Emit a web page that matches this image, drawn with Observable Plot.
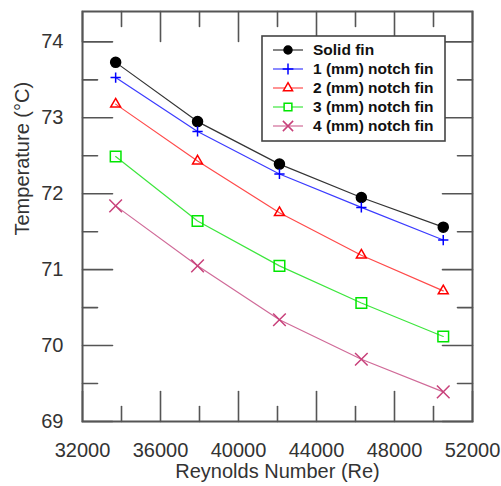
<!DOCTYPE html>
<html>
<head>
<meta charset="utf-8">
<script src="https://cdn.jsdelivr.net/npm/d3@7"></script>
<script src="https://cdn.jsdelivr.net/npm/@observablehq/plot@0.6"></script>
<style>
  html, body { margin: 0; padding: 0; background: #fff; }
  #chart { position: relative; width: 501px; height: 486px; }
  #chart > svg { position: absolute; left: 0; top: 0; }
  #overlay { position: absolute; left: 0; top: 0; pointer-events: none; z-index: 2; }
</style>
</head>
<body>
<div id="chart"></div>
<script>
// ---- data ----
const reynolds = [33700, 37900, 42100, 46300, 50500];
const solidFin = [73.73, 72.95, 72.39, 71.95, 71.56];
const notch1 = [73.53, 72.82, 72.26, 71.82, 71.39];
const notch2 = [73.18, 72.43, 71.75, 71.19, 70.72];
const notch3 = [72.49, 71.64, 71.05, 70.56, 70.12];
const notch4 = [71.84, 71.05, 70.34, 69.82, 69.39];

const seriesNames = ["Solid fin", "1 (mm) notch fin", "2 (mm) notch fin", "3 (mm) notch fin", "4 (mm) notch fin"];
const seriesValues = [solidFin, notch1, notch2, notch3, notch4];
const markerColors = ["#000000", "#0000ff", "#ff0000", "#00e600", "#c8407a"];
const lineColors = ["#333333", "#3b3bff", "#ff4a4a", "#3de63d", "#d06a98"];
const symbols = ["circle", "plus", "triangle", "square", "times"];
const symbolR = [5, 3.4, 3.7, 6.0, 5.8];
const symbolFilled = [true, false, false, false, false];

const xMajor = [32000, 36000, 40000, 44000, 48000, 52000];
const xMinor = [34000, 38000, 42000, 46000, 50000];
const yMajor = [69, 70, 71, 72, 73, 74];
const yMinor = [69.5, 70.5, 71.5, 72.5, 73.5];

const xTitle = "Reynolds Number (Re)";
const yTitle = "Temperature (°C)";

// ---- table ----
const rows = [];
seriesNames.forEach((name, i) => {
  reynolds.forEach((re, j) => rows.push({series: name, idx: i, re, t: seriesValues[i][j]}));
});

const W = 501, H = 486;
const mL = 82, mR = 29, mT = 11, mB = 65;
const majorLen = 30, minorLen = 15;
const axisColor = "#555";
const xDom = [32000, 52000], yDom = [69, 74.4];
const plotW = W - mL - mR, plotH = H - mT - mB;
// pixel tick length expressed in data units of each scale
const perPxX = (xDom[1] - xDom[0]) / plotW;
const perPxY = (yDom[1] - yDom[0]) / plotH;

// tick segments (inward, mirrored on all four sides)
const tickRows = [];
let tid = 0;
[[xMajor, majorLen], [xMinor, minorLen]].forEach(([ticks, len]) => {
  ticks.forEach(v => {
    tid++; tickRows.push({id: tid, x: v, y: yDom[0]}, {id: tid, x: v, y: yDom[0] + len * perPxY});
    tid++; tickRows.push({id: tid, x: v, y: yDom[1]}, {id: tid, x: v, y: yDom[1] - len * perPxY});
  });
});
[[yMajor, majorLen], [yMinor, minorLen]].forEach(([ticks, len]) => {
  ticks.forEach(v => {
    tid++; tickRows.push({id: tid, x: xDom[0], y: v}, {id: tid, x: xDom[0] + len * perPxX, y: v});
    tid++; tickRows.push({id: tid, x: xDom[1], y: v}, {id: tid, x: xDom[1] - len * perPxX, y: v});
  });
});

const marks = [];
marks.push(Plot.line(tickRows, {x: "x", y: "y", z: "id", stroke: axisColor, strokeWidth: 1.6}));
marks.push(Plot.frame({stroke: axisColor, strokeWidth: 2}));

// axis labels
marks.push(Plot.axisX({anchor: "bottom", ticks: xMajor, tickSize: 0, tickPadding: 21, tickFormat: d => String(d), label: null, fill: "#333", fontSize: 20}));
marks.push(Plot.axisY({anchor: "left", ticks: yMajor, tickSize: 0, tickPadding: 19, tickFormat: d => String(d), label: null, fill: "#333", fontSize: 20}));
marks.push(Plot.text([xTitle], {text: d => d, frameAnchor: "bottom", lineAnchor: "top", dy: 42, fontSize: 20, fill: "#333"}));
marks.push(Plot.text([yTitle], {text: d => d, frameAnchor: "left", rotate: -90, dx: -60, dy: 19, fontSize: 20, fill: "#333"}));

// series
seriesNames.forEach((name, i) => {
  const data = rows.filter(r => r.idx === i);
  marks.push(Plot.line(data, {x: "re", y: "t", stroke: lineColors[i], strokeWidth: 1.2}));
});
seriesNames.forEach((name, i) => {
  const data = rows.filter(r => r.idx === i);
  marks.push(Plot.dot(data, {
    x: "re", y: "t", symbol: symbols[i], r: symbolR[i],
    fill: symbolFilled[i] ? markerColors[i] : "white",
    fillOpacity: symbolFilled[i] ? 1 : 0,
    stroke: markerColors[i], strokeWidth: 1.5
  }));
});

const chart = Plot.plot({
  width: W, height: H,
  marginLeft: mL, marginRight: mR, marginTop: mT, marginBottom: mB,
  x: {domain: xDom, axis: null},
  y: {domain: yDom, axis: null},
  style: {fontFamily: "'Liberation Sans', Arial, sans-serif", fontSize: "20px", background: "white"},
  marks
});
const host = document.getElementById("chart");
host.appendChild(chart);

// ---- legend (inside plot, top right), overlaid ----
const ov = d3.select(host).append("svg").attr("id", "overlay")
  .attr("width", W).attr("height", H).attr("viewBox", `0 0 ${W} ${H}`);
const lg = ov.append("g")
  .attr("font-family", "'Liberation Sans', Arial, sans-serif");
const lx0 = 262, ly0 = 36, lw = 183, lh = 105;
lg.append("rect").attr("x", lx0).attr("y", ly0).attr("width", lw).attr("height", lh)
  .attr("fill", "white").attr("stroke", "#444").attr("stroke-width", 1.6);
const symMap = {circle: d3.symbolCircle, plus: d3.symbolPlus, triangle: d3.symbolTriangle, square: d3.symbolSquare, times: d3.symbolTimes};
const legSize = [50, 40, 36, 60, 70];
seriesNames.forEach((name, i) => {
  const cy = 50 + i * 19;
  lg.append("line").attr("x1", 273).attr("x2", 303).attr("y1", cy).attr("y2", cy)
    .attr("stroke", lineColors[i]).attr("stroke-width", 1.2);
  lg.append("path").attr("d", d3.symbol(symMap[symbols[i]], legSize[i])())
    .attr("transform", `translate(288,${cy})`)
    .attr("fill", symbolFilled[i] ? markerColors[i] : "white")
    .attr("stroke", markerColors[i]).attr("stroke-width", 1.5);
  lg.append("text").attr("x", 313).attr("y", cy).attr("dy", "0.35em")
    .attr("text-anchor", "start")
    .attr("font-weight", "bold").attr("font-size", 15.5).attr("fill", "#111")
    .text(name);
});
</script>
</body>
</html>
